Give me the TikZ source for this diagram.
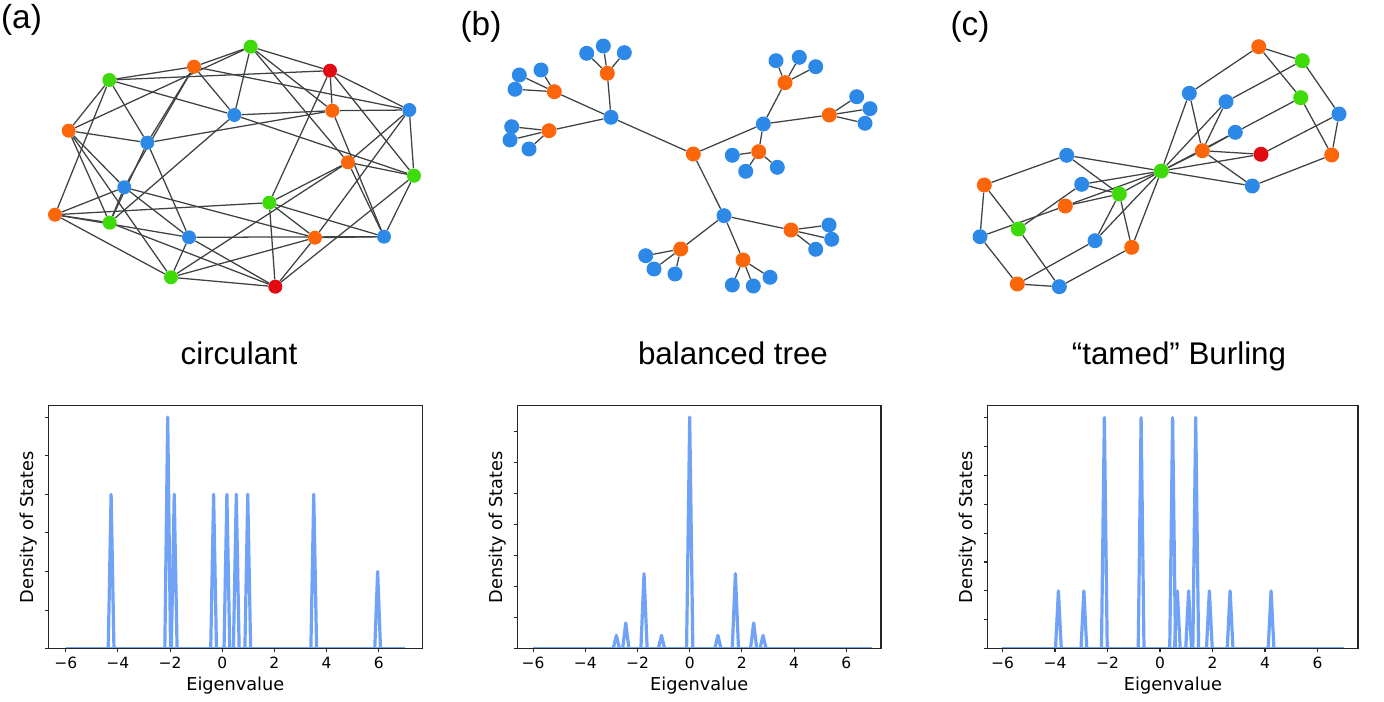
\documentclass[tikz,border=0pt]{standalone}
\usepackage{fontspec}
\setmainfont{Liberation Sans}
\newfontfamily\plotfont{DejaVu Sans}
\definecolor{nb}{RGB}{45,137,232}
\definecolor{no}{RGB}{252,102,10}
\definecolor{ng}{RGB}{62,218,10}
\definecolor{nr}{RGB}{226,10,18}
\definecolor{crv}{RGB}{112,162,248}
\definecolor{edgec}{RGB}{62,66,66}
\pgfdeclarelayer{bg}
\pgfsetlayers{bg,main}
\tikzset{
  vtx/.style={circle, inner sep=0pt, minimum size=10.5pt, draw=none},
  vtxb/.style={circle, inner sep=0pt, minimum size=11.25pt, draw=none},
  vb/.style={vtx, fill=nb}, vo/.style={vtx, fill=no}, vg/.style={vtx, fill=ng}, vr/.style={vtx, fill=nr},
  wb/.style={vtxb, fill=nb}, wo/.style={vtxb, fill=no}, wg/.style={vtxb, fill=ng}, wr/.style={vtxb, fill=nr},
  gedge/.style={draw=edgec, line width=0.95pt},
  frame/.style={draw=black!85, line width=0.8pt},
  tickl/.style={font=\plotfont\fontsize{11.6}{13}\selectfont, anchor=base},
  axl/.style={font=\plotfont\fontsize{13.3}{15}\selectfont, anchor=base},
  ttl/.style={font=\fontsize{23.5}{28}\selectfont, anchor=base},
  plab/.style={font=\fontsize{25}{30}\selectfont, anchor=base},
  curve/.style={draw=crv, line width=2.4pt, line join=round}
}
\begin{document}
\begin{tikzpicture}[x=0.75pt,y=-0.75pt]
\useasboundingbox (0,0) rectangle (1384,702);

% ---------- labels ----------
\node[plab] (la) at (21.5,29) {(a)};
\node[plab] (lb) at (481,36) {(b)};
\node[plab] (lc) at (970,36) {(c)};
\node[ttl] (ta) at (239,364) {circulant};
\node[ttl] (tb) at (733,364) {balanced tree};
\node[ttl] (tc) at (1179,364) {“tamed” Burling};

% ---------- graph (a): circulant C20(1,2,5) ----------
\node[vr] (a0) at (330,70.7) {};
\node[vo] (a1) at (332.3,110.7) {};
\node[vg] (a2) at (250.7,46.7) {};
\node[vb] (a3) at (234.3,115) {};
\node[vo] (a4) at (194,66.7) {};
\node[vg] (a5) at (109.3,80) {};
\node[vb] (a6) at (147.3,142.7) {};
\node[vo] (a7) at (68.7,130.7) {};
\node[vg] (a8) at (109.7,222.7) {};
\node[vb] (a9) at (124.3,187.3) {};
\node[vo] (a10) at (55,214.7) {};
\node[vb] (a11) at (189,237.3) {};
\node[vg] (a12) at (171,277.3) {};
\node[vr] (a13) at (275.3,286.7) {};
\node[vo] (a14) at (315,237.7) {};
\node[vg] (a15) at (269.3,202.7) {};
\node[vb] (a16) at (384,236.7) {};
\node[vo] (a17) at (348,162.3) {};
\node[vg] (a18) at (414,175.7) {};
\node[vb] (a19) at (409.3,110) {};
\begin{pgfonlayer}{bg}
\foreach \i in {0,...,19}{
  \foreach \d in {1,2,5}{
    \pgfmathtruncatemacro\j{mod(\i+\d,20)}
    \draw[gedge] (a\i) -- (a\j);
  }
}
\end{pgfonlayer}

% ---------- graph (b): balanced tree ----------
\node[wo] (b0) at (693.3,154) {};
\node[wb] (bA) at (611,117.3) {};
\node[wo] (bA1) at (607.3,73.3) {};
\node[wb] (bA1a) at (586.7,53.3) {};
\node[wb] (bA1b) at (603.3,46) {};
\node[wb] (bA1c) at (624.3,52.7) {};
\node[wo] (bA2) at (554.3,91.7) {};
\node[wb] (bA2a) at (519.3,75) {};
\node[wb] (bA2b) at (541,70) {};
\node[wb] (bA2c) at (515,89.3) {};
\node[wo] (bA3) at (549,130.7) {};
\node[wb] (bA3a) at (511.7,126.7) {};
\node[wb] (bA3b) at (510,140) {};
\node[wb] (bA3c) at (529,149) {};
\node[wb] (bB) at (763.3,124) {};
\node[wo] (bB1) at (785,82.7) {};
\node[wb] (bB1a) at (776,60.7) {};
\node[wb] (bB1b) at (799.3,57.3) {};
\node[wb] (bB1c) at (815.7,66.7) {};
\node[wo] (bB2) at (829.3,115) {};
\node[wb] (bB2a) at (856.7,96.7) {};
\node[wb] (bB2b) at (870,108.7) {};
\node[wb] (bB2c) at (865,123.3) {};
\node[wo] (bB3) at (758.7,151.7) {};
\node[wb] (bB3a) at (732.3,155.3) {};
\node[wb] (bB3b) at (745.7,171.3) {};
\node[wb] (bB3c) at (777.3,167.3) {};
\node[wb] (bC) at (724,215.7) {};
\node[wo] (bC1) at (791,230) {};
\node[wb] (bC1a) at (829,225) {};
\node[wb] (bC1b) at (831.7,239.3) {};
\node[wb] (bC1c) at (815.7,249.3) {};
\node[wo] (bC2) at (680.7,249) {};
\node[wb] (bC2a) at (645.7,255.7) {};
\node[wb] (bC2b) at (654,269) {};
\node[wb] (bC2c) at (675,274) {};
\node[wo] (bC3) at (743,260) {};
\node[wb] (bC3a) at (732.3,285) {};
\node[wb] (bC3b) at (753.3,286) {};
\node[wb] (bC3c) at (770,277.3) {};
\begin{pgfonlayer}{bg}
\foreach \h in {A,B,C}{
  \draw[gedge] (b0) -- (b\h);
  \foreach \k in {1,2,3}{
    \draw[gedge] (b\h) -- (b\h\k);
    \foreach \l in {a,b,c}{
      \draw[gedge] (b\h\k) -- (b\h\k\l);
    }
  }
}
\end{pgfonlayer}

% ---------- graph (c): tamed Burling ----------
\node[wo] (c1) at (1258.7,46.7) {};
\node[wg] (c2) at (1302.3,60.7) {};
\node[wb] (c3) at (1189.3,93.3) {};
\node[wb] (c4) at (1226,101.7) {};
\node[wg] (c5) at (1300.7,97.7) {};
\node[wb] (c6) at (1339,114) {};
\node[wb] (c7) at (1235.3,132.3) {};
\node[wo] (c8) at (1202.3,150.7) {};
\node[wr] (c9) at (1261,154.3) {};
\node[wo] (c10) at (1331.7,155) {};
\node[wg] (c11) at (1161.3,171) {};
\node[wb] (c12) at (1066.7,155.3) {};
\node[wb] (c13) at (1252.3,186) {};
\node[wb] (c14) at (1081.7,184.3) {};
\node[wg] (c15) at (1119.3,194) {};
\node[wo] (c16) at (984.3,185) {};
\node[wo] (c17) at (1065.3,206) {};
\node[wg] (c18) at (1018.3,229) {};
\node[wb] (c19) at (980,236.7) {};
\node[wb] (c20) at (1095,240.7) {};
\node[wo] (c21) at (1131.7,247.3) {};
\node[wo] (c22) at (1017.3,284) {};
\node[wb] (c23) at (1059.3,286.7) {};
\begin{pgfonlayer}{bg}
\foreach \u/\v in {c1/c2,c2/c6,c6/c10,c10/c5,c5/c1,c1/c3,c2/c4,c5/c7,c6/c9,c10/c13,
  c16/c19,c19/c22,c22/c23,c23/c18,c18/c16,c16/c12,c19/c17,c18/c14,c22/c20,c23/c21,
  c8/c11,c15/c11}{
  \draw[gedge] (\u) -- (\v);
}
\foreach \u in {c3,c4,c7,c9,c13}{
  \draw[gedge] (\u) -- (c8);
  \draw[gedge] (\u) -- (c11);
}
\foreach \u in {c12,c14,c17,c20,c21}{
  \draw[gedge] (\u) -- (c15);
  \draw[gedge] (\u) -- (c11);
}
\end{pgfonlayer}

% ---------- plot (a) ----------
\begin{scope}[shift={(222.2,648.7)}, x=19.56pt, y=28.95pt]
  \begin{scope}
    \clip (-6.67,0) rectangle (7.67,6.295);
    \draw[curve] (-6,0) -- (7,0);
    \foreach \p/\h in {-4.26/4,-2.09/6,-1.84/4,-0.33/4,0.18/4,0.54/4,0.98/4,3.51/4,5.96/2}{
      \draw[curve] (\p-0.11,0) -- (\p,\h) -- (\p+0.11,0);
    }
  \end{scope}
  \draw[frame] (-6.67,0) rectangle (7.67,6.295);
  \foreach \t in {0,...,6}{ \draw[frame] (-6.67,\t) -- ++(-2.6pt,0); }
  \foreach \t/\s in {-6/−6,-4/−4,-2/−2,0/0,2/2,4/4,6/6}{
    \draw[frame] (\t,0) -- ++(0,-2.6pt);
    \node[tickl] at ([yshift=-15pt]\t,0) {\s};
  }
\end{scope}
\node[axl] (xa) at (235.3,690) {Eigenvalue};
\node[axl, rotate=90] (ya) at (33.3,527.2) {Density of States};

% ---------- plot (b) ----------
\begin{scope}[shift={(689.7,648.7)}, x=19.575pt, y=23.25pt]
  \begin{scope}
    \clip (-6.61,0) rectangle (7.33,7.84);
    \draw[curve] (-6,0) -- (7,0);
    \foreach \p/\h in {-2.81/0.43,-2.45/0.83,-1.75/2.42,-1.08/0.43,0/7.47,1.08/0.43,1.75/2.42,2.45/0.83,2.81/0.43}{
      \draw[curve] (\p-0.12,0) -- (\p,\h) -- (\p+0.12,0);
    }
  \end{scope}
  \draw[frame] (-6.61,0) rectangle (7.33,7.84);
  \foreach \t in {0,...,7}{ \draw[frame] (-6.61,\t) -- ++(-2.6pt,0); }
  \foreach \t/\s in {-6/−6,-4/−4,-2/−2,0/0,2/2,4/4,6/6}{
    \draw[frame] (\t,0) -- ++(0,-2.6pt);
    \node[tickl] at ([yshift=-15pt]\t,0) {\s};
  }
\end{scope}
\node[axl] (xb) at (699.2,690) {Eigenvalue};
\node[axl, rotate=90] (yb) at (502.3,527.2) {Density of States};

% ---------- plot (c) ----------
\begin{scope}[shift={(1160,648.7)}, x=19.69pt, y=21.675pt]
  \begin{scope}
    \clip (-6.56,0) rectangle (7.54,8.41);
    \draw[curve] (-6,0) -- (7,0);
    \foreach \p/\h in {-3.87/2,-2.90/2,-2.12/8,-0.72/8,0.48/8,0.66/2,1.09/2,1.36/8,1.88/2,2.67/2,4.23/2}{
      \draw[curve] (\p-0.11,0) -- (\p,\h) -- (\p+0.11,0);
    }
  \end{scope}
  \draw[frame] (-6.56,0) rectangle (7.54,8.41);
  \foreach \t in {0,...,8}{ \draw[frame] (-6.56,\t) -- ++(-2.6pt,0); }
  \foreach \t/\s in {-6/−6,-4/−4,-2/−2,0/0,2/2,4/4,6/6}{
    \draw[frame] (\t,0) -- ++(0,-2.6pt);
    \node[tickl] at ([yshift=-15pt]\t,0) {\s};
  }
\end{scope}
\node[axl] (xc) at (1172.9,690) {Eigenvalue};
\node[axl, rotate=90] (yc) at (972.7,527.2) {Density of States};
\end{tikzpicture}
\end{document}
